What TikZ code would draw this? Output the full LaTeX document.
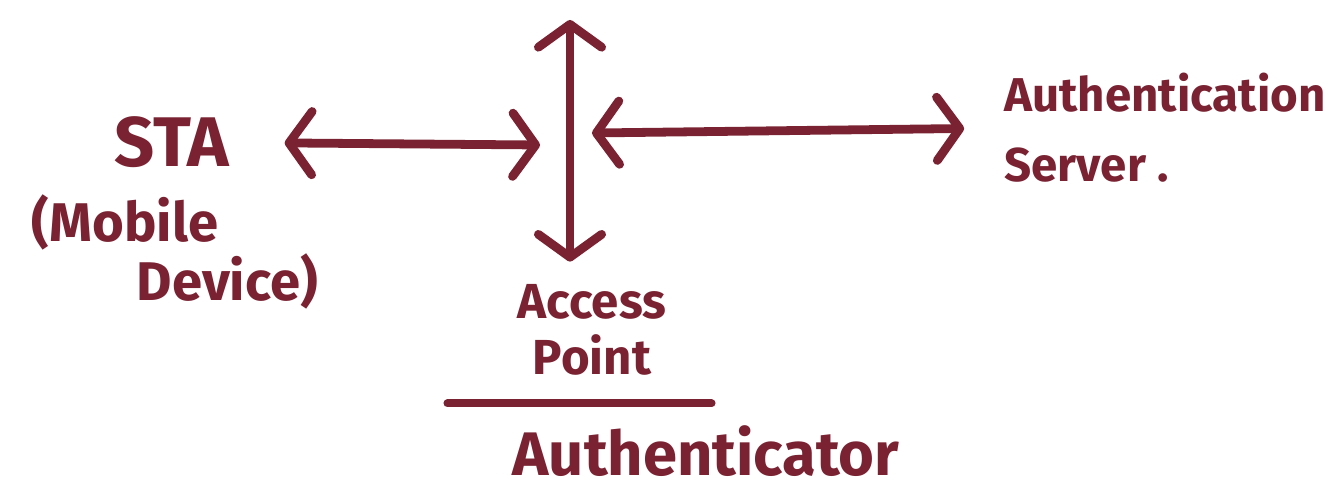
\documentclass[tikz,border=0pt]{standalone}
\usepackage{fontspec}
\setsansfont{Fira Sans}
\usetikzlibrary{arrows.meta}

\definecolor{ink}{RGB}{122,34,50}
\tikzset{
  inktext/.style={text=ink, font=\sffamily\bfseries, inner sep=0pt},
  inkarrow/.style={draw=ink, line width=5pt, line cap=round,
    >={Straight Barb[length=13pt,width=36pt,line cap=round,line join=round]}, <->},
  inkrule/.style={draw=ink, line width=4.5pt, line cap=round}
}

\begin{document}
\begin{tikzpicture}[x=0.02cm,y=-0.02cm]
\useasboundingbox[fill=white] (0,0) rectangle (1338,494);

% Labels
\node[inktext,font=\sffamily\bfseries\fontsize{40}{44}\selectfont] (sta) at (172,142) {STA};
\node[inktext,align=left,font=\sffamily\bfseries\fontsize{31}{34}\selectfont] (device) at (175,252) {(Mobile\\\hspace*{2.1cm}Device)};
\node[inktext,align=left,font=\sffamily\bfseries\fontsize{27}{40}\selectfont] (server) at (1165,128) {Authentication\\Server .};
\node[inktext,align=center,font=\sffamily\bfseries\fontsize{28}{32}\selectfont] (ap) at (592,330) {Access\\Point};
\node[inktext,font=\sffamily\bfseries\fontsize{35}{38}\selectfont] (auth) at (706,451) {Authenticator};

% Hub
\coordinate (hubW) at (540,145);
\coordinate (hubE) at (592,133);
\coordinate (hubN) at (570,20);

% Arrows
\draw[inkarrow,shorten <=1.1cm] (sta) -- (hubW);
\draw[inkarrow] (hubN) -- ([yshift=0.45cm]hubN |- ap.north);
\draw[inkarrow,shorten >=0.8cm] (hubE) -- (server.west);

% Divider
\draw[inkrule] ([xshift=-1.4cm,yshift=-0.55cm]ap.south west) -- ([xshift=0.9cm,yshift=-0.55cm]ap.south east);
\end{tikzpicture}
\end{document}
